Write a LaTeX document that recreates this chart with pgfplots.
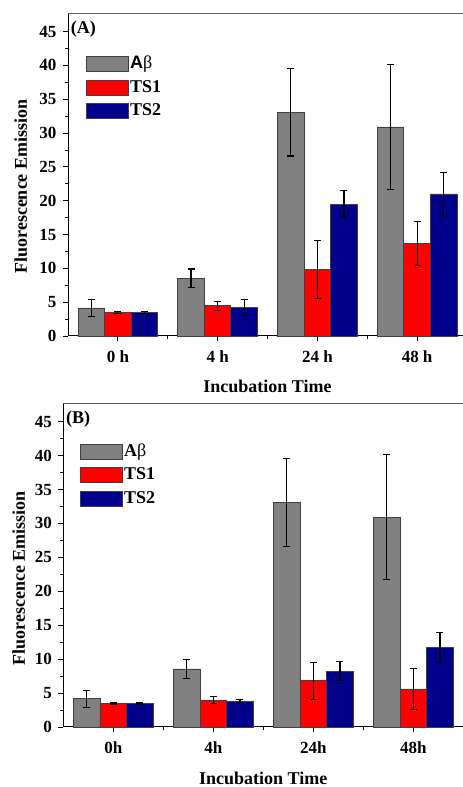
\documentclass[border=0pt]{standalone}
\usepackage{fontspec}
\setmainfont{Liberation Serif}
\newfontfamily\sansA{Liberation Sans}
\usepackage{pgfplots}
\pgfplotsset{compat=1.18}
\definecolor{barGrey}{RGB}{128,128,128}
\definecolor{barRed}{RGB}{255,0,0}
\definecolor{barBlue}{RGB}{0,0,139}
\pgfplotsset{
  panel/.style={
    scale only axis, xmin=0.5, ymin=0, ymax=47.6, clip=false,
    axis lines*=left,
    xtick={1,2,3,4}, minor xtick={1.5,2.5,3.5},
    ytick={0,5,...,45}, minor ytick={2.5,7.5,...,42.5},
    tick align=outside, xtick pos=bottom, ytick pos=left,
    major tick length=5pt, minor tick length=3pt,
    tick style={black, line width=0.8pt},
    axis line style={-, black, line width=1pt},
    /pgf/number format/assume math mode=true,
    ticklabel style={font=\fontsize{17}{17}\selectfont\bfseries},
    yticklabel style={xshift=-3pt},
    xticklabel style={yshift=-6pt},
    label style={font=\fontsize{18}{18}\selectfont\bfseries},
    xlabel={Incubation Time}, ylabel={Fluorescence Emission},
    ylabel style={rotate=0, anchor=base},
    legend cell align=left,
    legend style={draw=none, fill=none, inner sep=0pt, row sep=6.5pt,
      font=\fontsize{18}{18}\selectfont\bfseries,
      nodes={inner sep=1pt, text height=12pt, text depth=3pt}},
    legend image code/.code={\draw[#1] (0pt,-7.5pt) rectangle (42pt,7.5pt);},
  },
  bars/.style={ybar, bar width=0.266, bar shift=0pt, draw=black!75, line width=0.8pt,
    error bars/y dir=both, error bars/y explicit,
    error bars/error bar style={black, line width=#1},
    error bars/error mark options={rotate=90, mark size=3.5pt, black, line width=#1}},
}
\begin{document}
\begin{tikzpicture}
\useasboundingbox (0pt,0pt) rectangle (463pt,787pt);
% Panel A
\begin{axis}[panel, at={(68pt,451pt)}, anchor=south west,
  width=395pt, height=322pt, xmax=4.46,
  xticklabels={0 h,4 h,24 h,48 h},
  xlabel style={at={(axis description cs:0.505,-0.157)}, anchor=center},
  ylabel style={at={(axis description cs:-0.104,0.464)}},
  legend style={at={(axis description cs:0.046,0.871)}, anchor=north west}]
\addplot[bars=1.2pt, fill=barGrey] coordinates {
  (0.734,4.15) +- (0,1.3)
  (1.734,8.55) +- (0,1.35)
  (2.734,33.1) +- (0,6.5)
  (3.734,30.9) +- (0,9.2)};
\addplot[bars=1.2pt, fill=barRed] coordinates {
  (1,3.5) +- (0,0.15)
  (2,4.45) +- (0,0.65)
  (3,9.85) +- (0,4.3)
  (4,13.7) +- (0,3.25)};
\addplot[bars=1.2pt, fill=barBlue] coordinates {
  (1.266,3.45) +- (0,0.12)
  (2.266,4.18) +- (0,1.2)
  (3.266,19.5) +- (0,2.0)
  (4.266,21.0) +- (0,3.2)};
\legend{{\sansA\bfseries A}{\mdseries β},TS1,TS2}
\draw[black!65, line width=1pt] (rel axis cs:0,1) -- (rel axis cs:1,1);
\node[anchor=west, inner sep=1pt, font=\fontsize{18}{18}\selectfont\bfseries]
  at (axis description cs:0.004,0.953) {(A)};
\end{axis}
% Panel B
\begin{axis}[panel, at={(63.3pt,60pt)}, anchor=south west,
  width=399.7pt, height=323pt, xmax=4.497,
  xticklabels={0h,4h,24h,48h},
  xlabel style={at={(axis description cs:0.5,-0.159)}, anchor=center},
  ylabel style={at={(axis description cs:-0.096,0.461)}},
  legend style={at={(axis description cs:0.042,0.879)}, anchor=north west}]
\addplot[bars=0.9pt, fill=barGrey] coordinates {
  (0.734,4.15) +- (0,1.3)
  (1.734,8.55) +- (0,1.35)
  (2.734,33.1) +- (0,6.5)
  (3.734,30.9) +- (0,9.2)};
\addplot[bars=1.2pt, fill=barRed] coordinates {
  (1,3.5) +- (0,0.12)
  (2,3.95) +- (0,0.5)
  (3,6.8) +- (0,2.7)
  (4,5.6) +- (0,3.0)};
\addplot[bars=1.2pt, fill=barBlue] coordinates {
  (1.266,3.45) +- (0,0.1)
  (2.266,3.8) +- (0,0.2)
  (3.266,8.2) +- (0,1.4)
  (4.266,11.7) +- (0,2.2)};
\legend{{\bfseries A}{\mdseries β},TS1,TS2}
\draw[black!65, line width=1pt] (rel axis cs:0,1) -- (rel axis cs:1,1);
\node[anchor=west, inner sep=1pt, font=\fontsize{18}{18}\selectfont\bfseries]
  at (axis description cs:0.004,0.953) {(B)};
\end{axis}
\end{tikzpicture}
\end{document}
